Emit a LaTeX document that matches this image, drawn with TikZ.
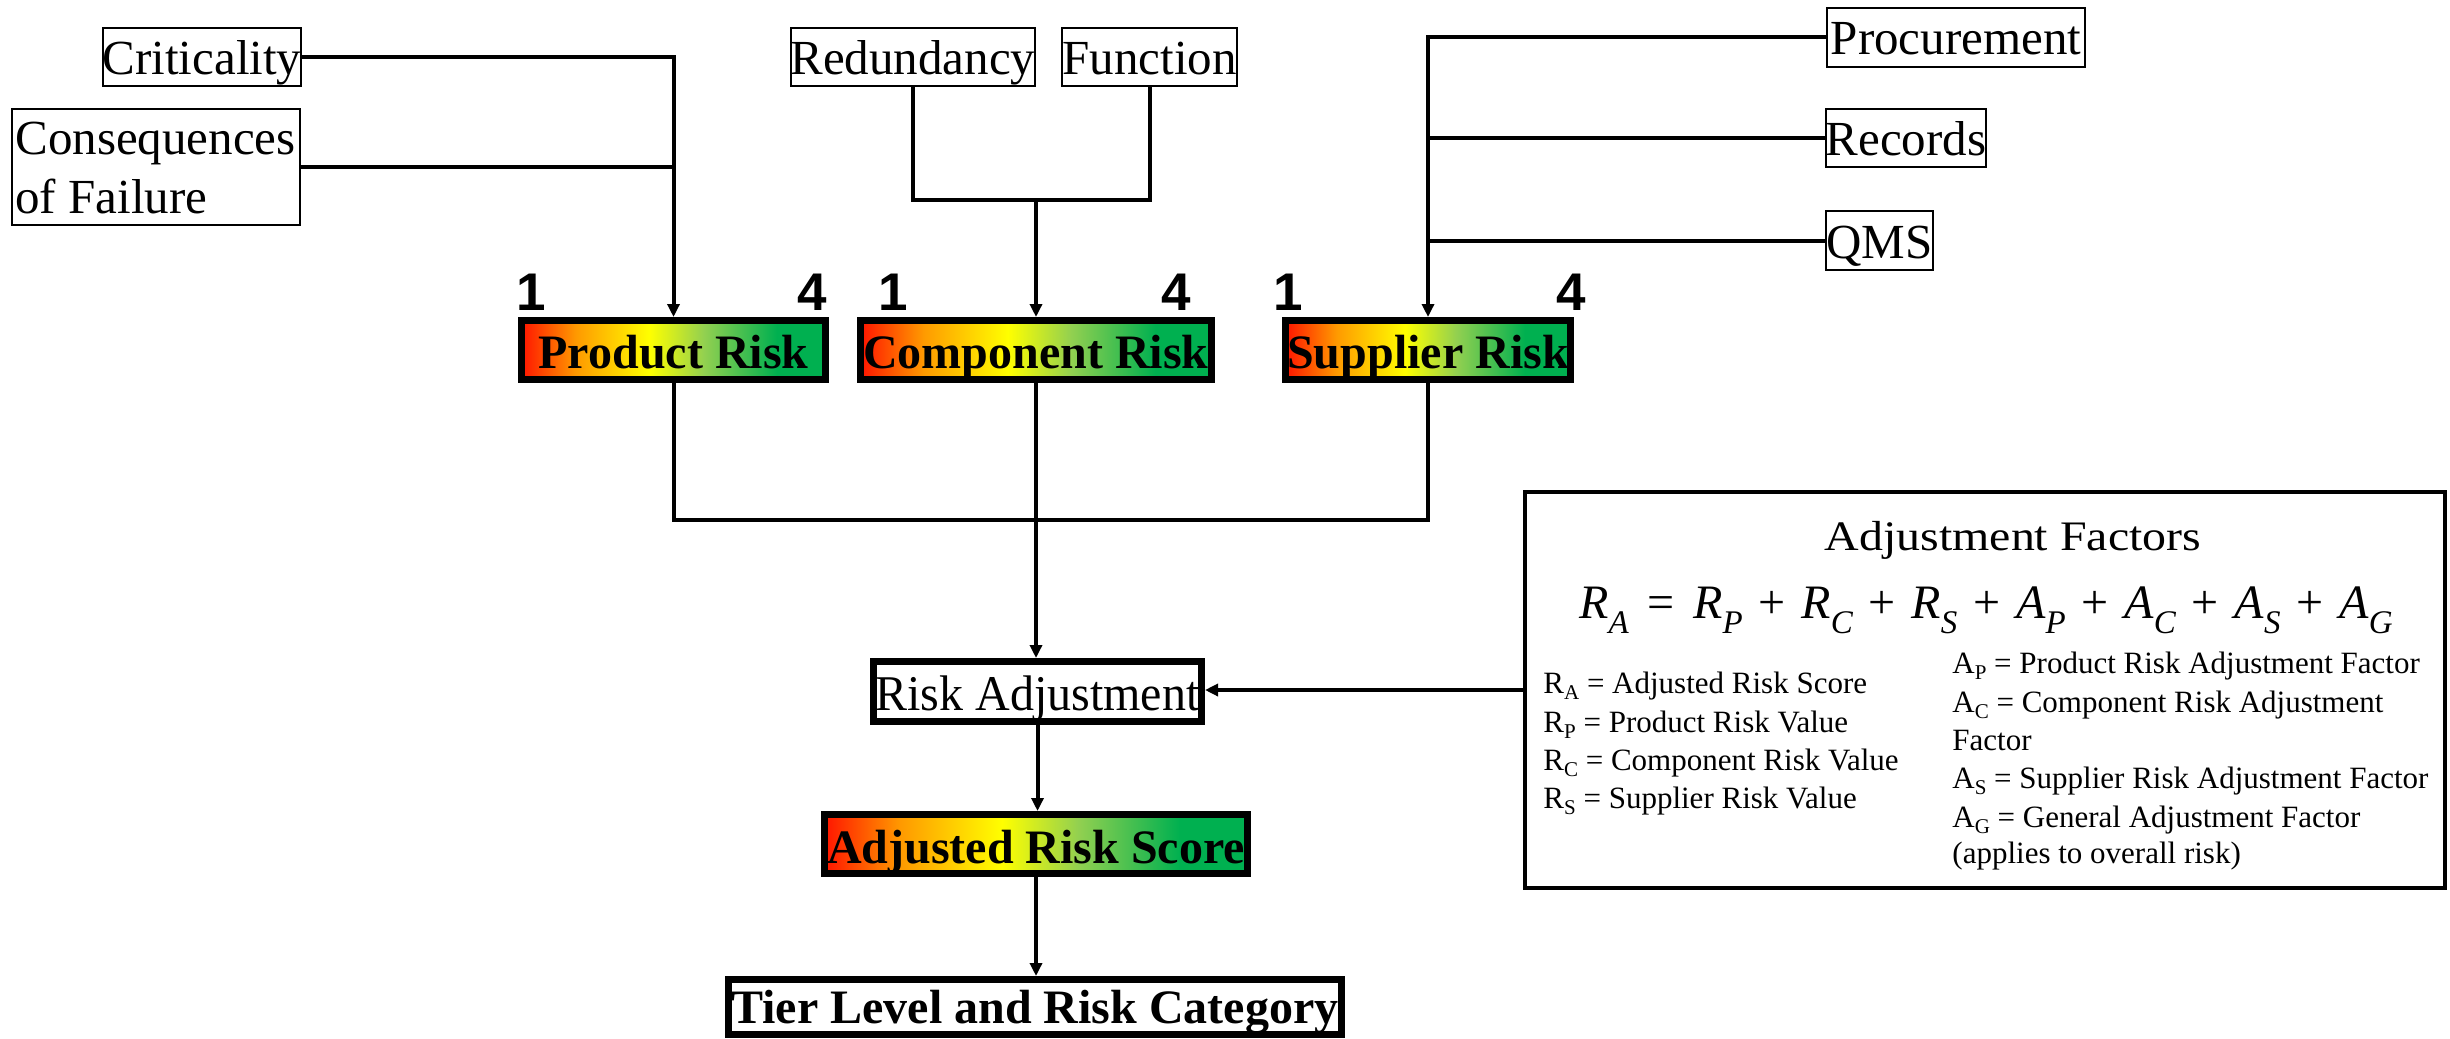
\documentclass[tikz,border=0pt]{standalone}
\usepackage{fontspec}
\setmainfont{Liberation Serif}
\newfontfamily\numfont{Liberation Sans}
\usepackage{graphicx}
\usetikzlibrary{arrows.meta}
\definecolor{gR}{HTML}{FF1500}
\definecolor{gO}{HTML}{FF9A00}
\definecolor{gY}{HTML}{FFFF00}
\definecolor{gL}{HTML}{92D050}
\definecolor{gG}{HTML}{00B050}
\pgfdeclarehorizontalshading{riskgrad}{100bp}{color(0bp)=(gR); color(25bp)=(gR); color(34bp)=(gO); color(46bp)=(gY); color(55bp)=(gL); color(67bp)=(gG); color(100bp)=(gG)}
\newcommand\eqt[2]{\textit{#1}\raisebox{-7.5pt}{\fontsize{16.5}{18}\selectfont\itshape #2}}
\newcommand\eqbin[1]{\hspace{0.33em}#1\hspace{0.33em}}
\newcommand\eqrel[1]{\hspace{0.39em}#1\hspace{0.39em}}
\newcommand\sbs[1]{\raisebox{-0.22em}{\fontsize{10.5}{12}\selectfont #1}}
\tikzset{
  sz/.style 2 args={minimum width=#1*0.5pt, minimum height=#2*0.5pt},
  thinbox/.style={draw, line width=1pt, inner sep=0pt, outer sep=0pt, font=\fontsize{24.5}{29}\selectfont, text height=17.5pt, text depth=0pt},
  gradbox/.style={shade, shading=riskgrad, inner sep=0pt, outer sep=0pt, font=\fontsize{24}{28}\selectfont\bfseries, text height=18pt, text depth=0pt},
  plainbox/.style={fill=white, inner sep=0pt, outer sep=0pt},
  heavyborder/.style={line width=3.5pt},
  num/.style={font=\fontsize{26.5}{30}\selectfont\numfont\bfseries, inner sep=0pt},
  conn/.style={line width=2pt},
  arr/.style={conn, -{Triangle[length=6.5pt,width=6pt]}, shorten >=1.75pt},
  smalltxt/.style={font=\fontsize{15.5}{19}\selectfont, inner sep=0pt, anchor=base west},
  plaintxt/.style={font=\fontsize{24.5}{29}\selectfont, inner sep=0pt, anchor=base west}}
\begin{document}
\begin{tikzpicture}[x=0.5pt,y=-0.5pt]
\useasboundingbox (0,0) rectangle (2450,1038);

% input boxes
\node[thinbox, sz={194}{58}] (crit) at (202,57) {Criticality};
\node[thinbox, sz={288}{116}] (cons) at (156,167) {};
\node[plaintxt] (consA) at (15,155) {Consequences};
\node[plaintxt] (consB) at (15,213) {of Failure};
\node[thinbox, sz={242}{58}] (red) at (913,57) {Redundancy};
\node[thinbox, sz={171}{58}] (func) at (1149.5,57) {Function};
\node[thinbox, sz={258}{59}] (proc) at (1956,37.5) {Procurement};
\node[thinbox, sz={158}{58}] (rec) at (1906,138) {Records};
\node[thinbox, sz={105}{59}] (qms) at (1879.5,240.5) {QMS};

% risk boxes
\node[gradbox, sz={304}{59}] (prod) at (673.5,350) {Product Risk};
\node[gradbox, sz={351}{59}] (comp) at (1036,350) {Component Risk};
\node[gradbox, sz={285}{59}] (sup) at (1428,350) {Supplier Risk};
\node[plainbox, sz={328}{60}, font=\fontsize{25}{30}\selectfont, text height=18.5pt, text depth=0pt] (ra) at (1037.5,691.5) {\scalebox{0.96}[1]{Risk Adjustment}};
\node[gradbox, sz={423}{59}, text height=19pt] (ars) at (1036,844) {Adjusted Risk Score};
\node[plainbox, sz={613}{55}, font=\fontsize{24}{28}\selectfont\bfseries, text height=16pt, text depth=0pt] (tier) at (1035,1007) {Tier Level and Risk Category};
\foreach \n in {prod,comp,sup,ra,ars,tier} \draw[heavyborder] (\n.north west) rectangle (\n.south east);

% scale labels
\node[num, anchor=base west] (p1) at (516,310) {1};
\node[num, anchor=base east] (p4) at (827,310) {4};
\node[num, anchor=base west] (c1) at (878,310) {1};
\node[num, anchor=base east] (c4) at (1191,310) {4};
\node[num, anchor=base west] (s1) at (1273,310) {1};
\node[num, anchor=base east] (s4) at (1586,310) {4};

% adjustment factors box
\node[draw, line width=2pt, sz={920}{396}, inner sep=0pt, outer sep=0pt] (adj) at (1985,690) {};
\node[font=\fontsize{21}{24}\selectfont, inner sep=0pt, anchor=base] (adjt) at (2013,550) {\scalebox{1.14}[1]{Adjustment Factors}};
\node[font=\fontsize{24}{28}\selectfont, inner sep=0pt, anchor=base] (eq) at (1986,618) {\eqt{R}{A}\eqrel{=}\eqt{R}{P}\eqbin{+}\eqt{R}{C}\eqbin{+}\eqt{R}{S}\eqbin{+}\eqt{A}{P}\eqbin{+}\eqt{A}{C}\eqbin{+}\eqt{A}{S}\eqbin{+}\eqt{A}{G}};
\node[smalltxt] (l1) at (1543,693) {R\sbs{A} = Adjusted Risk Score};
\node[smalltxt] (l2) at (1543,732) {R\sbs{P} = Product Risk Value};
\node[smalltxt] (l3) at (1543,770) {R\sbs{C} = Component Risk Value};
\node[smalltxt] (l4) at (1543,808) {R\sbs{S} = Supplier Risk Value};
\node[smalltxt] (r1) at (1952,673) {A\sbs{P} = Product Risk Adjustment Factor};
\node[smalltxt] (r2) at (1952,712) {A\sbs{C} = Component Risk Adjustment};
\node[smalltxt] (r3) at (1952,750) {Factor};
\node[smalltxt] (r4) at (1952,788) {A\sbs{S} = Supplier Risk Adjustment Factor};
\node[smalltxt] (r5) at (1952,827) {A\sbs{G} = General Adjustment Factor};
\node[smalltxt] (r6) at (1952,863) {(applies to overall risk)};

% junction coordinates
\coordinate (cj) at (1036,200);
\coordinate (bj) at (1036,520);

% connectors
\draw[arr] (crit.east) -| (prod.north);
\draw[conn] (cons.east) -- (cons.east -| prod.north);
\draw[conn] (red.south) |- (cj) -| (func.south);
\draw[arr] (cj) -- (comp.north);
\draw[arr] (proc.west) -| (sup.north);
\draw[conn] (rec.west) -- (rec.west -| sup.north);
\draw[conn] (qms.west) -- (qms.west -| sup.north);
\draw[conn] (prod.south) |- (bj) -| (sup.south);
\draw[conn] (comp.south) -- (bj);
\draw[arr] (bj) -- (bj |- ra.north);
\draw[arr] (ra.south) -- (ra.south |- ars.north);
\draw[arr] (ars.south) -- (ars.south |- tier.north);
\draw[arr] (adj.west) -- (adj.west -| ra.east);
\end{tikzpicture}
\end{document}
